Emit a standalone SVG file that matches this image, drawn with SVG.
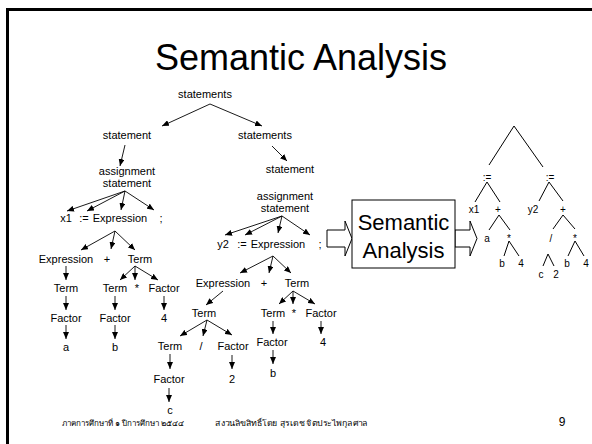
<svg xmlns="http://www.w3.org/2000/svg" width="592" height="444" viewBox="0 0 592 444">
<defs>
<marker id="ah" markerUnits="userSpaceOnUse" markerWidth="8" markerHeight="6" refX="7" refY="3" orient="auto"><path d="M0,0 L7,3 L0,6 z" fill="#000"/></marker>
<style>
text{font-family:"Liberation Sans",Arial,sans-serif;fill:#000;text-anchor:middle}
.s{font-size:11px}
.r{font-size:10px}
.a{stroke:#000;stroke-width:0.9;fill:none;marker-end:url(#ah)}
.l{stroke:#000;stroke-width:1;fill:none}
.big{fill:#fff;stroke:#000;stroke-width:1}
.th{font-family:"Liberation Serif","Noto Sans",serif;font-size:8px;text-anchor:start}
</style>
</defs>
<rect width="592" height="444" fill="#fff"/>
<path d="M7.5,444 V9.5 H592" fill="none" stroke="#000" stroke-width="3"/>
<text x="301" y="70" style="font-size:36px">Semantic Analysis</text>

<g id="connectors">
<line class="a" x1="210" y1="104" x2="162" y2="126"/>
<line class="a" x1="210" y1="104" x2="262" y2="126"/>
<line class="a" x1="125" y1="145" x2="120" y2="166"/>
<line class="a" x1="125" y1="191" x2="67" y2="211"/>
<line class="a" x1="125" y1="191" x2="87" y2="211"/>
<line class="a" x1="125" y1="191" x2="121" y2="210"/>
<line class="a" x1="125" y1="191" x2="154" y2="210"/>
<line class="a" x1="115" y1="231" x2="81" y2="250"/>
<line class="a" x1="115" y1="231" x2="111" y2="249"/>
<line class="a" x1="115" y1="231" x2="135" y2="250"/>
<line class="a" x1="66" y1="266" x2="66" y2="280"/>
<line class="a" x1="135" y1="266" x2="120" y2="280"/>
<line class="a" x1="135" y1="266" x2="135" y2="280"/>
<line class="a" x1="135" y1="266" x2="158" y2="280"/>
<line class="a" x1="66" y1="296" x2="66" y2="310"/>
<line class="a" x1="115" y1="296" x2="115" y2="310"/>
<line class="a" x1="164" y1="296" x2="164" y2="310"/>
<line class="a" x1="66" y1="325" x2="66" y2="339"/>
<line class="a" x1="115" y1="325" x2="115" y2="339"/>

<line class="a" x1="272" y1="146" x2="287" y2="161"/>
<line class="a" x1="282" y1="216" x2="225" y2="235"/>
<line class="a" x1="282" y1="216" x2="245" y2="235"/>
<line class="a" x1="282" y1="216" x2="278" y2="233"/>
<line class="a" x1="282" y1="216" x2="310" y2="235"/>
<line class="a" x1="273" y1="256" x2="240" y2="273"/>
<line class="a" x1="273" y1="256" x2="269" y2="273"/>
<line class="a" x1="273" y1="256" x2="291" y2="273"/>
<line class="a" x1="223" y1="291" x2="206" y2="305"/>
<line class="a" x1="293" y1="291" x2="279" y2="304"/>
<line class="a" x1="293" y1="291" x2="293" y2="304"/>
<line class="a" x1="293" y1="291" x2="315" y2="304"/>
<line class="a" x1="207" y1="320" x2="180" y2="336"/>
<line class="a" x1="207" y1="320" x2="203" y2="336"/>
<line class="a" x1="207" y1="320" x2="232" y2="335"/>
<line class="a" x1="273" y1="321" x2="273" y2="334"/>
<line class="a" x1="321" y1="321" x2="321" y2="334"/>
<line class="a" x1="232" y1="355" x2="232" y2="369"/>
<line class="a" x1="273" y1="350" x2="273" y2="364"/>
<line class="a" x1="170" y1="354" x2="170" y2="369"/>
<line class="a" x1="169" y1="388" x2="169" y2="402"/>

<path class="big" d="M327,230 H345 V221 L352,238.5 L345,256 V247 H327 Z"/>
<path class="big" d="M455,230 H470 V221 L477,238.5 L470,256 V247 H455 Z"/>

<path class="l" d="M489,165 L514,126 L543,167"/>
<path class="l" d="M475,202 L487,182 L500,202"/>
<path class="l" d="M539,201 L549,182 L563,201"/>
<path class="l" d="M489,230 L499,215 L510,230"/>
<path class="l" d="M553,229 L563,215 L575,229"/>
<path class="l" d="M504,256 L509,241 L519,256"/>
<path class="l" d="M568,256 L575,241 L584,256"/>
<path class="l" d="M543,266 L548,254 L554,266"/>
</g>

<g id="n-statements-top"><text class="s" x="205" y="98">statements</text></g>
<g id="n-statement-1"><text class="s" x="127" y="139">statement</text></g>
<g id="n-assign-1"><text class="s" x="127" y="175">assignment</text><text class="s" x="127" y="187">statement</text></g>
<g id="n-x1"><text class="s" x="66" y="222">x1</text></g>
<g id="n-assign-op-1"><text class="s" x="84" y="222">:=</text></g>
<g id="n-expr-1"><text class="s" x="120" y="222">Expression</text></g>
<g id="n-semi-1"><text class="s" x="161" y="222">;</text></g>
<g id="n-expr-1a"><text class="s" x="66" y="263">Expression</text></g>
<g id="n-plus-1"><text class="s" x="107" y="263">+</text></g>
<g id="n-term-1b"><text class="s" x="140" y="263">Term</text></g>
<g id="n-term-1c"><text class="s" x="66" y="292">Term</text></g>
<g id="n-term-1d"><text class="s" x="115" y="292">Term</text></g>
<g id="n-mul-1"><text class="s" x="137" y="292">*</text></g>
<g id="n-factor-1e"><text class="s" x="164" y="292">Factor</text></g>
<g id="n-factor-1f"><text class="s" x="66" y="322">Factor</text></g>
<g id="n-factor-1g"><text class="s" x="115" y="322">Factor</text></g>
<g id="n-four-1"><text class="s" x="164" y="322">4</text></g>
<g id="n-a-1"><text class="s" x="66" y="351">a</text></g>
<g id="n-b-1"><text class="s" x="115" y="351">b</text></g>

<g id="n-statements-2"><text class="s" x="265" y="139">statements</text></g>
<g id="n-statement-2"><text class="s" x="290" y="173">statement</text></g>
<g id="n-assign-2"><text class="s" x="285" y="200">assignment</text><text class="s" x="285" y="212">statement</text></g>
<g id="n-y2"><text class="s" x="223" y="248">y2</text></g>
<g id="n-assign-op-2"><text class="s" x="242" y="248">:=</text></g>
<g id="n-expr-2"><text class="s" x="278" y="248">Expression</text></g>
<g id="n-semi-2"><text class="s" x="320" y="248">;</text></g>
<g id="n-expr-2a"><text class="s" x="223" y="287">Expression</text></g>
<g id="n-plus-2"><text class="s" x="264" y="287">+</text></g>
<g id="n-term-2b"><text class="s" x="297" y="287">Term</text></g>
<g id="n-term-2c"><text class="s" x="204" y="317">Term</text></g>
<g id="n-term-2d"><text class="s" x="273" y="317">Term</text></g>
<g id="n-mul-2"><text class="s" x="294" y="317">*</text></g>
<g id="n-factor-2e"><text class="s" x="321" y="317">Factor</text></g>
<g id="n-term-2f"><text class="s" x="170" y="350">Term</text></g>
<g id="n-div-2"><text class="s" x="201" y="350">/</text></g>
<g id="n-factor-2g"><text class="s" x="233" y="350">Factor</text></g>
<g id="n-factor-2h"><text class="s" x="272" y="346">Factor</text></g>
<g id="n-four-2"><text class="s" x="323" y="346">4</text></g>
<g id="n-b-2"><text class="s" x="273" y="377">b</text></g>
<g id="n-two-2"><text class="s" x="232" y="383">2</text></g>
<g id="n-factor-2i"><text class="s" x="169" y="383">Factor</text></g>
<g id="n-c-2"><text class="s" x="170" y="414">c</text></g>

<g id="n-semantic-box">
<rect x="352" y="200" width="103" height="68" fill="#fff" stroke="#000" stroke-width="1"/>
<text x="403.5" y="230" style="font-size:22px">Semantic</text>
<text x="403.5" y="258" style="font-size:22px">Analysis</text>
</g>

<g id="n-ast-assign-1"><text class="r" x="487" y="181">:=</text></g>
<g id="n-ast-assign-2"><text class="r" x="550" y="181">:=</text></g>
<g id="n-ast-x1"><text class="r" x="474" y="213">x1</text></g>
<g id="n-ast-plus-1"><text class="r" x="498" y="213">+</text></g>
<g id="n-ast-y2"><text class="r" x="533" y="213">y2</text></g>
<g id="n-ast-plus-2"><text class="r" x="563" y="213">+</text></g>
<g id="n-ast-a"><text class="r" x="487" y="242">a</text></g>
<g id="n-ast-mul-1"><text class="r" x="509" y="242">*</text></g>
<g id="n-ast-div"><text class="r" x="551" y="242">/</text></g>
<g id="n-ast-mul-2"><text class="r" x="575" y="242">*</text></g>
<g id="n-ast-b-1"><text class="r" x="502" y="267">b</text></g>
<g id="n-ast-four-1"><text class="r" x="521" y="267">4</text></g>
<g id="n-ast-b-2"><text class="r" x="567" y="267">b</text></g>
<g id="n-ast-four-2"><text class="r" x="586" y="267">4</text></g>
<g id="n-ast-c"><text class="r" x="541" y="278">c</text></g>
<g id="n-ast-two"><text class="r" x="556" y="278">2</text></g>

<text class="th" x="62" y="426">ภาคการศึกษาที่ ๑ ปีการศึกษา ๒๕๔๔</text>
<text class="th" x="215" y="426" textLength="153" lengthAdjust="spacingAndGlyphs">สงวนลิขสิทธิ์โดย สุรเดช จิตประไพกุลศาล</text>
<text x="562" y="426" style="font-size:12px">9</text>
</svg>
